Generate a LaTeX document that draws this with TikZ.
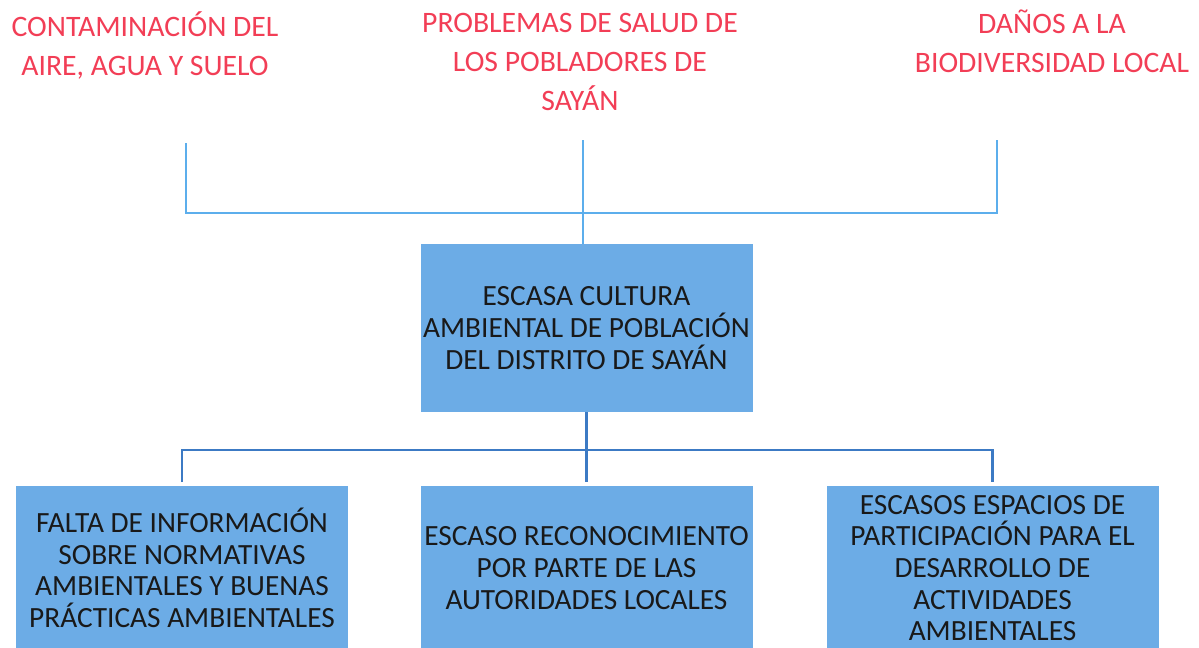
\documentclass[tikz,border=0pt]{standalone}
\usepackage{fontspec}
\setmainfont{Carlito}
\usepackage{tikz}
\usetikzlibrary{calc}

\definecolor{effectred}{RGB}{242,62,86}
\definecolor{boxblue}{RGB}{108,172,230}
\definecolor{toplink}{RGB}{92,174,236}
\definecolor{botlink}{RGB}{60,122,196}

\tikzset{
  effect/.style={align=center, text=effectred, font=\fontsize{16.9}{22.2}\selectfont, inner sep=0pt},
  causebox/.style={fill=boxblue, align=center, text=black!90, inner sep=0pt,
    minimum width=332*0.02cm, font=\fontsize{16.7}{18}\selectfont},
  toplinkline/.style={toplink, line width=1.3pt},
  botlinkline/.style={botlink, line width=1.3pt}
}

\begin{document}
\begin{tikzpicture}[x=0.02cm, y=-0.02cm]
  \useasboundingbox (0,0) rectangle (1199,647);
  \clip (0,0) rectangle (1199,647);

  % effects
  \node[effect] (effect1) at (145,45) {CONTAMINACIÓN DEL\\AIRE, AGUA Y SUELO};
  \node[effect] (effect2) at (580,62) {PROBLEMAS DE SALUD DE\\LOS POBLADORES DE\\SAYÁN};
  \node[effect] (effect3) at (1052,41) {DAÑOS A LA\\BIODIVERSIDAD LOCAL};

  % central problem
  \node[causebox, minimum height=168*0.02cm] (problem) at (586.5,328)
    {ESCASA CULTURA\\AMBIENTAL DE POBLACIÓN\\DEL DISTRITO DE SAYÁN};

  % causes
  \node[causebox, minimum height=164*0.02cm] (cause1) at (182,568)
    {FALTA DE INFORMACIÓN\\SOBRE NORMATIVAS\\AMBIENTALES Y BUENAS\\PRÁCTICAS AMBIENTALES};
  \node[causebox, minimum height=164*0.02cm] (cause2) at (586.5,568)
    {ESCASO RECONOCIMIENTO\\POR PARTE DE LAS\\AUTORIDADES LOCALES};
  \node[causebox, minimum height=164*0.02cm] (cause3) at (992.5,568)
    {ESCASOS ESPACIOS DE\\PARTICIPACIÓN PARA EL\\DESARROLLO DE\\ACTIVIDADES\\AMBIENTALES};

  % upper links
  \coordinate (up1) at (186,143);
  \coordinate (up2) at (583,140);
  \coordinate (up3) at (997,140);
  \coordinate (upbar) at (0,213);
  \draw[toplinkline] (up1) -- (up1 |- upbar) -- (up3 |- upbar) -- (up3);
  \draw[toplinkline] (up2) -- (up2 |- problem.north);

  % lower links
  \coordinate (lowbar) at (0,450);
  \draw[botlinkline] (problem.south) -- ([yshift=2pt]cause2.north);
  \draw[botlinkline] ([yshift=2pt]cause1.north) -- (cause1.north |- lowbar)
    -- (cause3.north |- lowbar) -- ([yshift=2pt]cause3.north);
\end{tikzpicture}
\end{document}
